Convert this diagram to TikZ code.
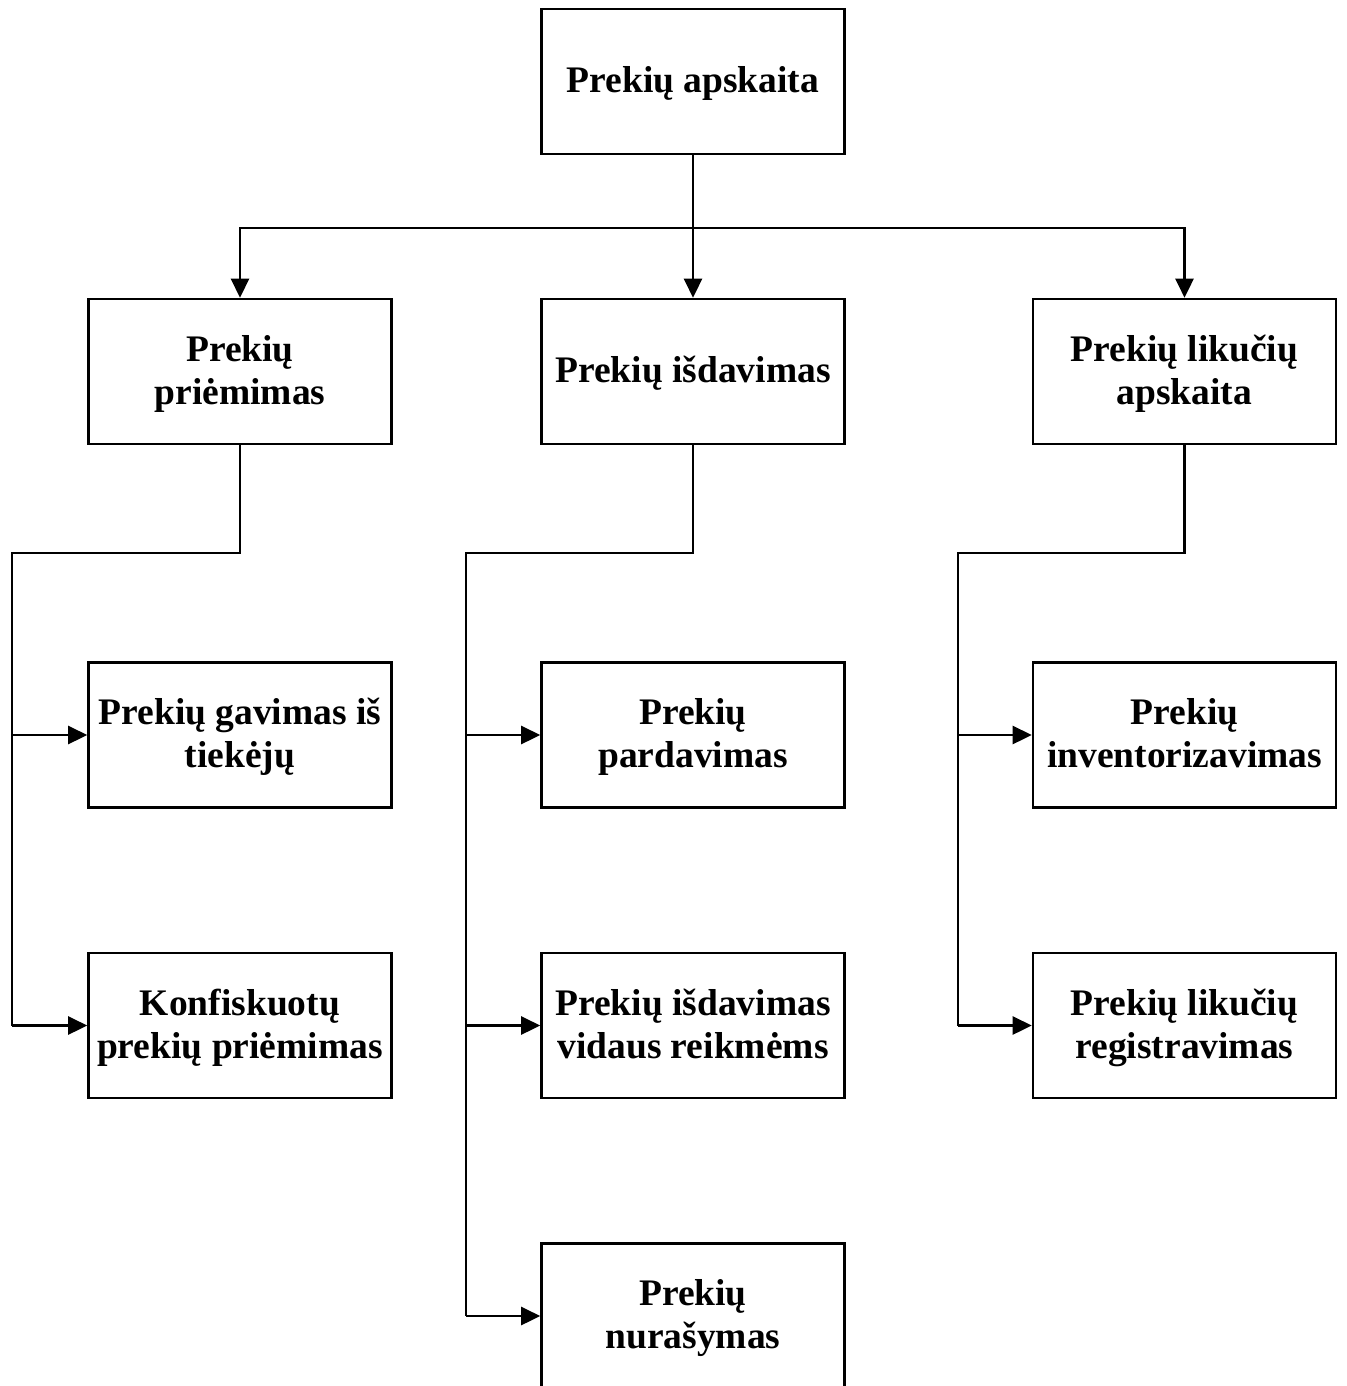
\documentclass[tikz,border=0pt]{standalone}
\usepackage{fontspec}
\setmainfont{Liberation Serif}
\usetikzlibrary{arrows.meta}
\begin{document}
\begin{tikzpicture}[x=1pt,y=-1pt,
  box/.style={draw, line width=2.6pt, minimum width=303pt, minimum height=145pt,
    inner sep=0pt, text width=300pt, align=center,
    font=\fontsize{37.5}{43}\selectfont\bfseries,
    % rigid word spaces; fixed ascent and descent so every label sits at the same height
    execute at begin node={\spaceskip=\fontdimen2\font\relax\noindent\rule{0pt}{31pt}},
    execute at end node={\rule[-9pt]{0pt}{0pt}}},
  link/.style={line width=2.6pt},
  arr/.style={link, -{Triangle[length=19pt,width=18pt]}}]
\useasboundingbox (0,0) rectangle (1346,1386);
\clip (0,0) rectangle (1346,1386);
% root
\node[box] (root) at (693,81.5) {Prekių apskaita};
% second level
\node[box] (recv) at (240,371.5) {Prekių\\priėmimas};
\node[box] (issue) at (693,371.5) {Prekių išdavimas};
\node[box] (rest) at (1184.5,371.5) {Prekių likučių\\apskaita};
% third level
\node[box] (supp) at (240,735) {Prekių gavimas iš\\tiekėjų};
\node[box] (conf) at (240,1025.5) {Konfiskuotų\\prekių priėmimas};
\node[box] (sale) at (693,735) {Prekių\\pardavimas};
\node[box] (inner) at (693,1025.5) {Prekių išdavimas\\vidaus reikmėms};
\node[box] (wo) at (693,1316) {Prekių\\nurašymas};
\node[box] (inv) at (1184.5,735) {Prekių\\inventorizavimas};
\node[box] (reg) at (1184.5,1025.5) {Prekių likučių\\registravimas};
% bus below the root
\coordinate (bus) at (693,228);
\draw[link] (root.south) -- (bus);
\draw[arr] (bus) -| (recv.north);
\draw[arr] (bus) -- (issue.north);
\draw[arr] (bus) -| (rest.north);
% left branch
\coordinate (lk) at (240,553);
\coordinate (lr) at (12,553);
\draw[link] (recv.south) -- (lk) -- (lr) -- (12,1025.5);
\draw[arr] (12,735) -- (supp.west);
\draw[arr] (12,1025.5) -- (conf.west);
% middle branch
\coordinate (mk) at (693,553);
\coordinate (mr) at (466,553);
\draw[link] (issue.south) -- (mk) -- (mr) -- (466,1316);
\draw[arr] (466,735) -- (sale.west);
\draw[arr] (466,1025.5) -- (inner.west);
\draw[arr] (466,1316) -- (wo.west);
% right branch
\coordinate (rk) at (1184.5,553);
\coordinate (rr) at (958,553);
\draw[link] (rest.south) -- (rk) -- (rr) -- (958,1025.5);
\draw[arr] (958,735) -- (inv.west);
\draw[arr] (958,1025.5) -- (reg.west);
\end{tikzpicture}
\end{document}
